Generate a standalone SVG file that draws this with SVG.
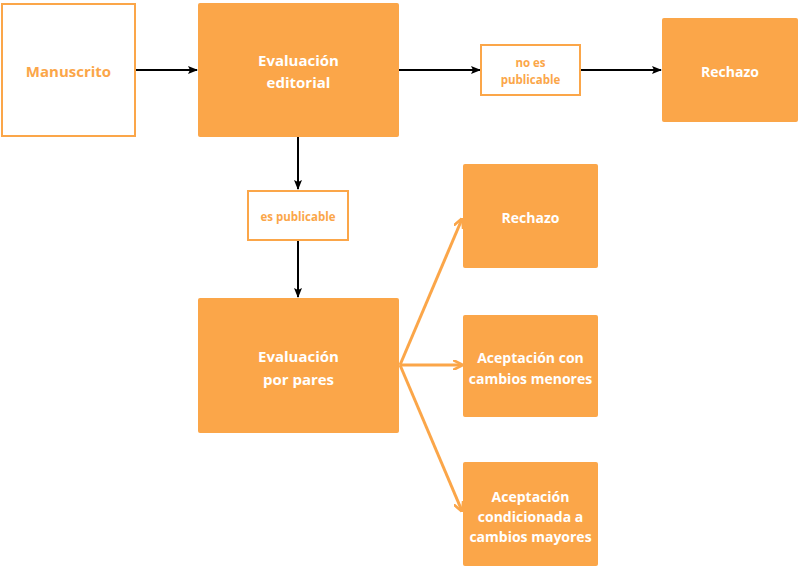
<svg xmlns="http://www.w3.org/2000/svg" width="800" height="568" viewBox="0 0 800 568">
<defs>
<style>
.box{fill:#FBA649;}
.obox{fill:#FFFFFF;stroke:#FBA649;stroke-width:2;}
.t{font-family:"Open Sans","Liberation Sans",sans-serif;font-weight:bold;text-anchor:middle;dominant-baseline:central;}
.w{fill:#FFFFFF;}
.o{fill:#FBA649;}
.k{stroke:#000;stroke-width:2;fill:none;}
.a{stroke:#FBA649;stroke-width:3;fill:none;}
</style>
<marker id="mk" viewBox="0 0 10 10" refX="9" refY="5" markerWidth="5" markerHeight="5" orient="auto" markerUnits="strokeWidth"><path d="M0,1 L10,5 L0,9 L2,5 Z" fill="#000"/></marker>
<marker id="mo" viewBox="0 0 10 10" refX="9" refY="5" markerWidth="3.5" markerHeight="3.5" orient="auto" markerUnits="strokeWidth"><path d="M0,0 L10,5 L0,10" fill="none" stroke="#FBA649" stroke-width="2.5"/></marker>
</defs>
<rect width="800" height="568" fill="#FFFFFF"/>
<g id="connectors">
<line class="k" x1="136" y1="70" x2="197" y2="70" marker-end="url(#mk)"/>
<line class="k" x1="399" y1="70" x2="480" y2="70" marker-end="url(#mk)"/>
<line class="k" x1="581" y1="70" x2="661" y2="70" marker-end="url(#mk)"/>
<line class="k" x1="298" y1="137" x2="298" y2="189" marker-end="url(#mk)"/>
<line class="k" x1="298" y1="241" x2="298" y2="297" marker-end="url(#mk)"/>
<line class="a" x1="400" y1="365" x2="462" y2="219" marker-end="url(#mo)"/>
<line class="a" x1="400" y1="365" x2="462" y2="365" marker-end="url(#mo)"/>
<line class="a" x1="400" y1="365" x2="462" y2="511" marker-end="url(#mo)"/>
</g>
<g id="manuscrito">
<rect class="obox" x="2" y="4" width="133" height="132"/>
<text class="t o" x="68.5" y="71" font-size="15">Manuscrito</text>
</g>
<g id="evaluacion-editorial">
<rect class="box" x="198" y="3" width="201" height="134" rx="2"/>
<text class="t w" x="298.5" y="60" font-size="15">Evaluación</text>
<text class="t w" x="298.5" y="82" font-size="15">editorial</text>
</g>
<g id="no-es-publicable">
<rect class="obox" x="481" y="45" width="99" height="50"/>
<text class="t o" x="530.5" y="62" font-size="11.5">no es</text>
<text class="t o" x="530.5" y="79" font-size="11.5">publicable</text>
</g>
<g id="rechazo-1">
<rect class="box" x="662" y="18" width="136" height="104" rx="2"/>
<text class="t w" x="730" y="71" font-size="14">Rechazo</text>
</g>
<g id="es-publicable">
<rect class="obox" x="248" y="191" width="100" height="49"/>
<text class="t o" x="298" y="216" font-size="11.5">es publicable</text>
</g>
<g id="evaluacion-por-pares">
<rect class="box" x="198" y="298" width="201" height="135" rx="2"/>
<text class="t w" x="298.5" y="356" font-size="15">Evaluación</text>
<text class="t w" x="298.5" y="379" font-size="15">por pares</text>
</g>
<g id="rechazo-2">
<rect class="box" x="463" y="164" width="135" height="104" rx="2"/>
<text class="t w" x="530.5" y="217" font-size="14">Rechazo</text>
</g>
<g id="aceptacion-menores">
<rect class="box" x="463" y="315" width="135" height="102" rx="2"/>
<text class="t w" x="530.5" y="357" font-size="14">Aceptación con</text>
<text class="t w" x="530.5" y="378" font-size="14">cambios menores</text>
</g>
<g id="aceptacion-mayores">
<rect class="box" x="463" y="462" width="135" height="104" rx="2"/>
<text class="t w" x="530.5" y="496" font-size="14">Aceptación</text>
<text class="t w" x="530.5" y="516" font-size="14">condicionada a</text>
<text class="t w" x="530.5" y="536" font-size="14">cambios mayores</text>
</g>
</svg>
